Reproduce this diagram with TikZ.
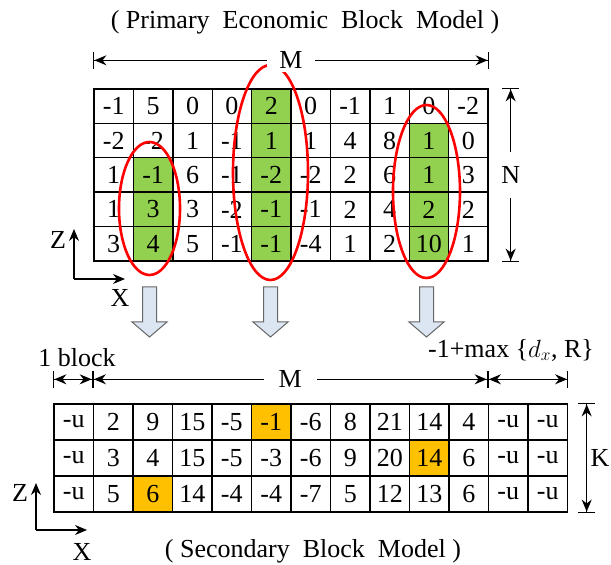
\documentclass[tikz,border=0pt]{standalone}
\usepackage{fontspec}
\setmainfont{Liberation Serif}
\usetikzlibrary{arrows.meta,shapes.geometric,backgrounds}
\definecolor{hitgreen}{HTML}{92D050}
\definecolor{pickorange}{HTML}{FFC000}
\definecolor{arrowblue}{HTML}{DCE6F2}
\tikzset{
  cell/.style      = {shape=rectangle, draw, line width=1.4pt, inner sep=0pt},
  pcell/.style     = {cell, minimum width=39.4pt, minimum height=34.4pt},
  scell/.style     = {cell, minimum width=39.5pt, minimum height=36pt},
  ring/.style      = {shape=ellipse, draw=red, line width=2.6pt, inner sep=0pt},
  dim/.style       = {line width=1.1pt,
                      {Bar[width=17pt]Stealth[length=12pt,width=10pt]}-{Stealth[length=12pt,width=10pt]Bar[width=17pt]}},
  axis/.style      = {line width=1.1pt, -{Stealth[length=12pt,width=10pt]}},
  downarrow/.style = {draw=black!60, line width=1pt, fill=arrowblue}
}

\begin{document}
\begin{tikzpicture}
 [x=1pt, y=1pt, font=\fontsize{26}{30}\selectfont]
 \useasboundingbox (0,0) rectangle (611,565);

  % primary economic block model
  \foreach \row [count=\r from 0] in {{-1,5,0,0,2,0,-1,1,0,-2},{-2,-2,1,-1,1,1,4,8,1,0},
      {1,-1,6,-1,-2,-2,2,6,1,3},{1,3,3,-2,-1,-1,2,4,2,2},{3,4,5,-1,-1,-4,1,2,10,1}}
    \foreach \v [count=\c from 0] in \row
      \node [pcell] (p-\r-\c) at ({113.7+39.4*\c}, {458.8-34.4*\r}) {\v};

  % secondary block model
  \foreach \row [count=\r from 0] in {{-u,2,9,15,-5,-1,-6,8,21,14,4,-u,-u},
      {-u,3,4,15,-5,-3,-6,9,20,14,6,-u,-u},{-u,5,6,14,-4,-4,-7,5,12,13,6,-u,-u}}
    \foreach \v [count=\c from 0] in \row
      \node [scell] (s-\r-\c) at ({73.75+39.5*\c}, {143-36*\r}) {\v};

  \begin{scope}[on background layer]
    \foreach \r/\c in {2/1,3/1,4/1,0/4,1/4,2/4,3/4,4/4,1/8,2/8,3/8,4/8}
      \fill [hitgreen] (p-\r-\c.north west) rectangle (p-\r-\c.south east);
    \foreach \r/\c in {0/5,1/9,2/2}
      \fill [pickorange] (s-\r-\c.north west) rectangle (s-\r-\c.south east);
  \end{scope}

  \node [ring, minimum width=61pt, minimum height=133pt] (e1) at (149.5,356.5) {};
  \node [ring, minimum width=75pt, minimum height=215pt] (e2) at (270.5,392.5) {};
  \node [ring, minimum width=67pt, minimum height=173pt] (e3) at (426.5,373.5) {};

  \coordinate (top) at (0,278);
  \foreach \e in {e1,e2,e3}
    \draw [downarrow] (\e.south |- top) ++(7,0) -- ++(0,-35) -- ++(10.5,0)
      -- ++(-17.5,-15) -- ++(-17.5,15) -- ++(10.5,0) -- ++(0,35) -- cycle;

  \draw [dim] ([yshift=28pt]p-0-0.north west) -- ([yshift=28pt]p-0-9.north east)
    node [midway, fill=white, inner xsep=12pt] {M};
  \draw [dim] ([xshift=22pt]p-0-9.north east) -- ([xshift=22pt]p-4-9.south east)
    node [midway, fill=white, inner ysep=14pt] {N};

  \draw [dim] ([yshift=24pt]s-0-0.north west) -- ([yshift=24pt]s-0-1.north west);
  \draw [dim] ([yshift=24pt]s-0-1.north west) -- ([yshift=24pt]s-0-11.north west)
    node [midway, fill=white, inner xsep=15pt] {M};
  \draw [dim] ([yshift=24pt]s-0-11.north west) -- ([yshift=24pt]s-0-12.north east);
  \draw [dim] ([xshift=18.5pt]s-0-12.north east) -- ([xshift=18.5pt]s-2-12.south east)
    node [midway, right=0pt] {K};

  \node (blk) at (77,207) {1 block};
  \node (rng) at (511,215) {-1+max \{$d_{x}$, R\}};

  \node (ttl1) at (305,543) {( Primary \ Economic \ Block \ Model )};
  \node (ttl2) at (313,14) {( Secondary \ Block \ Model )};

  % axes
  \coordinate (o1) at (74,286);
  \draw [axis] (o1) -- ++(0,50);
  \draw [axis] (o1) -- ++(51,0);
  \node (z1) at (58,325) {Z};
  \node (x1) at (120,267) {X};
  \coordinate (o2) at (36,35);
  \draw [axis] (o2) -- ++(0,47);
  \draw [axis] (o2) -- ++(51,0);
  \node (z2) at (20,72) {Z};
  \node (x2) at (82,13) {X};
\end{tikzpicture}
\end{document}
